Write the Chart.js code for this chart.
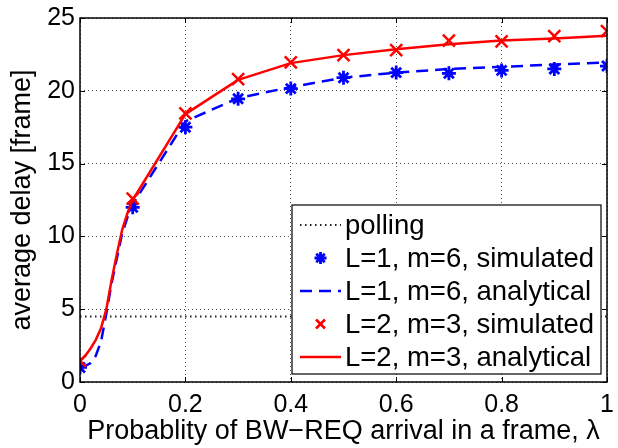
<!DOCTYPE html>
<html>
<head>
<meta charset="utf-8">
<script src="https://cdn.jsdelivr.net/npm/chart.js"></script>
<style>
  html, body { margin: 0; padding: 0; background: #fff; }
  #wrap { width: 618px; height: 448px; }
</style>
</head>
<body>
<div id="wrap"><canvas id="delayChart" width="618" height="448"></canvas></div>
<script>
// valores
const lambdaSim = [0, 0.1, 0.2, 0.3, 0.4, 0.5, 0.6, 0.7, 0.8, 0.9, 1];
const simL1 = [1.0, 12.0, 17.5, 19.45, 20.15, 20.9, 21.25, 21.2, 21.4, 21.5, 21.7];
const simL2 = [1.45, 12.6, 18.45, 20.8, 21.95, 22.45, 22.8, 23.45, 23.4, 23.75, 24.1];

const lambdaAna = [0, 0.01, 0.02, 0.03, 0.04, 0.05, 0.06, 0.07, 0.08, 0.09, 0.1, 0.2, 0.3, 0.4, 0.5, 0.6, 0.7, 0.8, 0.9, 1];
const anaL1 = [1.0, 1.1, 1.3, 1.8, 2.8, 4.7, 6.8, 8.5, 10.2, 11.3, 12.2, 17.9, 19.5, 20.25, 20.9, 21.25, 21.5, 21.65, 21.8, 21.95];
const anaL2 = [1.45, 1.8, 2.3, 2.9, 3.7, 5.0, 7.0, 8.8, 10.45, 11.6, 12.5, 18.4, 20.75, 21.9, 22.45, 22.85, 23.2, 23.45, 23.6, 23.78];

const pollingX = [0, 1];
const pollingY = [4.5, 4.5];

const xTicks = [0, 0.2, 0.4, 0.6, 0.8, 1];
const yTicks = [0, 5, 10, 15, 20, 25];

const seriesNames = ['polling', 'L=1, m=6, simulated', 'L=1, m=6, analytical', 'L=2, m=3, simulated', 'L=2, m=3, analytical'];

const pts = (xs, ys) => xs.map((x, i) => ({x: x, y: ys[i]}));
const FONT = '"Liberation Sans", Arial, Helvetica, sans-serif';

// caixa, marcas internas e legenda ao estilo MATLAB
const matlabBox = {
    id: 'matlabBox',
    afterDraw(chart) {
        const ctx = chart.ctx;
        const a = chart.chartArea;
        const xs = chart.scales.x, ys = chart.scales.y;
        ctx.save();
        ctx.strokeStyle = '#000';
        ctx.lineWidth = 1.5;
        ctx.strokeRect(a.left, a.top, a.right - a.left, a.bottom - a.top);
        ctx.lineWidth = 1;
        ctx.beginPath();
        xTicks.forEach(v => {
            const px = Math.round(xs.getPixelForValue(v)) + 0.5;
            ctx.moveTo(px, a.bottom); ctx.lineTo(px, a.bottom - 5);
            ctx.moveTo(px, a.top); ctx.lineTo(px, a.top + 5);
        });
        yTicks.forEach(v => {
            const py = Math.round(ys.getPixelForValue(v)) + 0.5;
            ctx.moveTo(a.left, py); ctx.lineTo(a.left + 5, py);
            ctx.moveTo(a.right, py); ctx.lineTo(a.right - 5, py);
        });
        ctx.stroke();

        // legenda
        const lx = 292, ly = a.top + 187, lw = 309, lh = 169;
        ctx.fillStyle = '#fff';
        ctx.fillRect(lx, ly, lw, lh);
        ctx.lineWidth = 1.2;
        ctx.strokeStyle = '#000';
        ctx.strokeRect(lx, ly, lw, lh);
        ctx.font = '27.5px ' + FONT;
        ctx.textBaseline = 'middle';
        ctx.textAlign = 'left';
        chart.data.datasets.forEach((ds, i) => {
            const cy = ly + 20 + i * 33;
            const x1 = lx + 8, x2 = lx + 49, cx = (x1 + x2) / 2;
            ctx.save();
            if (ds.showLine) {
                ctx.strokeStyle = ds.borderColor;
                ctx.lineWidth = ds.borderWidth;
                ctx.setLineDash(ds.borderDash || []);
                ctx.beginPath();
                ctx.moveTo(x1, cy); ctx.lineTo(x2, cy);
                ctx.stroke();
            } else {
                ctx.strokeStyle = ds.pointBorderColor;
                ctx.lineWidth = ds.pointBorderWidth;
                const r = 6;
                ctx.beginPath();
                if (ds.pointStyle === 'star') {
                    for (let k = 0; k < 4; k++) {
                        const ang = k * Math.PI / 4;
                        ctx.moveTo(cx - r * Math.cos(ang), cy - r * Math.sin(ang));
                        ctx.lineTo(cx + r * Math.cos(ang), cy + r * Math.sin(ang));
                    }
                } else {
                    const d = r * 0.75;
                    ctx.moveTo(cx - d, cy - d); ctx.lineTo(cx + d, cy + d);
                    ctx.moveTo(cx - d, cy + d); ctx.lineTo(cx + d, cy - d);
                }
                ctx.stroke();
            }
            ctx.restore();
            ctx.fillStyle = '#000';
            ctx.fillText(ds.label, x2 + 4, cy + 1);
        });
        ctx.restore();
    }
};

new Chart(document.getElementById('delayChart'), {
    type: 'scatter',
    data: {
        datasets: [{
            label: seriesNames[0],
            data: pts(pollingX, pollingY),
            showLine: true,
            borderColor: '#222',
            borderWidth: 2,
            borderDash: [1.5, 3.5],
            pointRadius: 0,
            order: 5
        }, {
            label: seriesNames[1],
            data: pts(lambdaSim, simL1),
            showLine: false,
            pointStyle: 'star',
            pointRadius: 7,
            pointBorderWidth: 2.8,
            pointBorderColor: '#0000ff',
            pointBackgroundColor: '#0000ff',
            order: 4
        }, {
            label: seriesNames[2],
            data: pts(lambdaAna, anaL1),
            showLine: true,
            borderColor: '#0000ff',
            borderWidth: 2.5,
            borderDash: [12, 7],
            borderJoinStyle: 'round',
            pointRadius: 0,
            order: 3
        }, {
            label: seriesNames[3],
            data: pts(lambdaSim, simL2),
            showLine: false,
            pointStyle: 'crossRot',
            pointRadius: 8.5,
            pointBorderWidth: 2.5,
            pointBorderColor: '#ff0000',
            pointBackgroundColor: '#ff0000',
            order: 2
        }, {
            label: seriesNames[4],
            data: pts(lambdaAna, anaL2),
            showLine: true,
            borderColor: '#ff0000',
            borderWidth: 2.5,
            borderJoinStyle: 'round',
            pointRadius: 0,
            order: 1
        }]
    },
    options: {
        responsive: false,
        animation: false,
        layout: { padding: { top: 18, right: 3, left: 0, bottom: 0 } },
        plugins: {
            legend: { display: false },
            tooltip: { enabled: false }
        },
        scales: {
            x: {
                type: 'linear',
                min: 0,
                max: 1,
                afterFit: s => { s.height = 66; s.paddingLeft = 0; s.paddingRight = 0; },
                afterBuildTicks: s => { s.ticks = xTicks.map(v => ({value: v})); },
                grid: { color: '#555', lineWidth: 1, drawTicks: false },
                border: { display: false, dash: [1, 3] },
                ticks: {
                    padding: 8,
                    color: '#000',
                    font: { family: FONT, size: 25 },
                    callback: v => String(v)
                },
                title: {
                    display: true,
                    text: 'Probablity of BW\u2212REQ arrival in a frame, \u03bb',
                    color: '#000',
                    font: { family: FONT, size: 27 },
                    padding: { top: 0, bottom: 0 }
                }
            },
            y: {
                type: 'linear',
                min: 0,
                max: 25,
                afterFit: s => { s.width = 80; s.paddingTop = 0; s.paddingBottom = 0; },
                afterBuildTicks: s => { s.ticks = yTicks.map(v => ({value: v})); },
                grid: { color: '#555', lineWidth: 1, drawTicks: false },
                border: { display: false, dash: [1, 3] },
                ticks: {
                    padding: 5,
                    color: '#000',
                    font: { family: FONT, size: 25 }
                },
                title: {
                    display: true,
                    text: 'average delay [frame]',
                    color: '#000',
                    font: { family: FONT, size: 27 },
                    padding: { top: 6, bottom: 0 }
                }
            }
        }
    },
    plugins: [matlabBox]
});
</script>
</body>
</html>
